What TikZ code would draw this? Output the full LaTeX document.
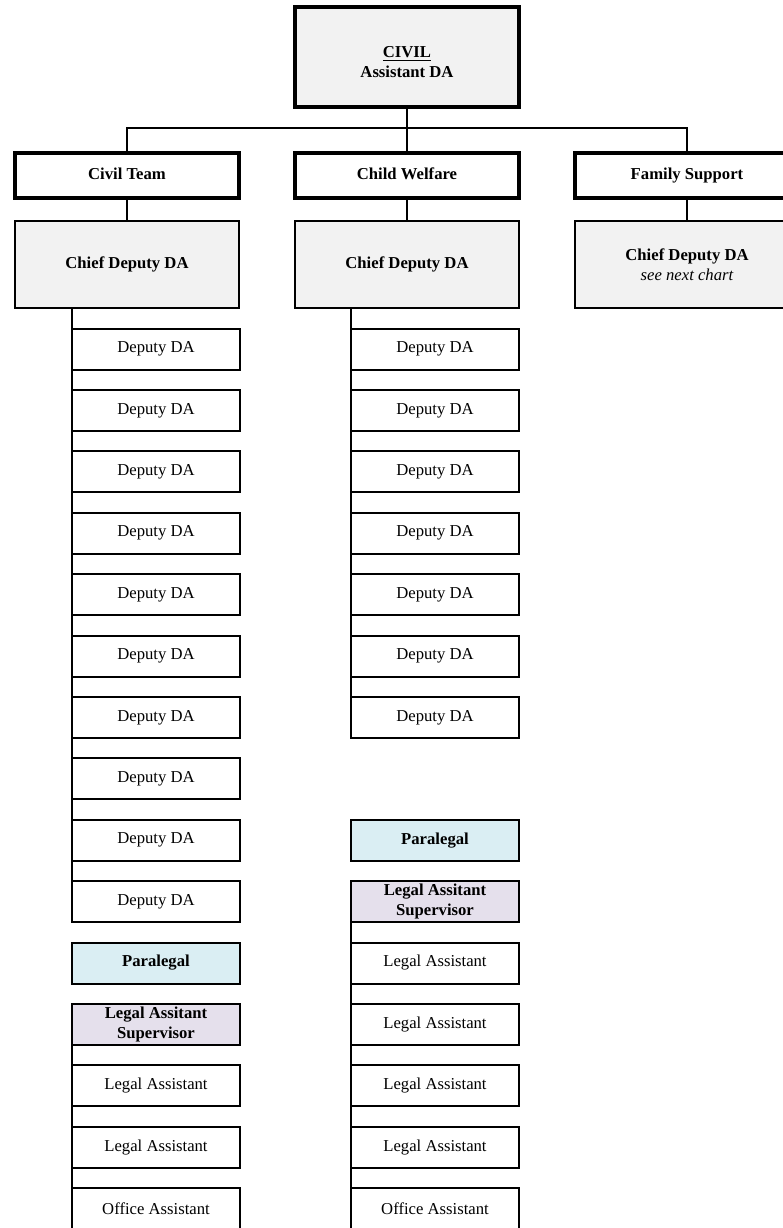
\documentclass[tikz,border=0pt]{standalone}
\usepackage{fontspec}
\setmainfont{Liberation Serif}
\usetikzlibrary{positioning}
\definecolor{chiefgray}{HTML}{F2F2F2}
\definecolor{parablue}{HTML}{DAEEF3}
\definecolor{suplilac}{HTML}{E5E0EC}
\tikzset{
  box/.style={draw, outer sep=0pt, inner sep=1pt, align=center},
  headbox/.style={box, line width=2.4pt, fill=chiefgray, minimum width=134.4pt, minimum height=60pt, font=\bfseries},
  teambox/.style={box, line width=2.4pt, fill=white, minimum width=134.4pt, minimum height=27pt, text height=7pt, text depth=2.2pt, font=\bfseries},
  chiefbox/.style={box, line width=1.2pt, fill=chiefgray, minimum width=134.4pt, minimum height=52.2pt, font=\bfseries},
  staffbox/.style={box, line width=1.2pt, fill=white, minimum width=100.8pt, minimum height=24.6pt},
  parabox/.style={staffbox, fill=parablue, font=\bfseries},
  supbox/.style={staffbox, fill=suplilac, font=\bfseries},
  link/.style={line width=1.2pt}
}

\begin{document}
\begin{tikzpicture}[node distance=12.24pt]
		\useasboundingbox (0,0) rectangle (469.8pt,-736.8pt);
		\node[headbox] at (244.2pt,-34.2pt) (civil) {\rule{0pt}{13pt}\underline{CIVIL}\\Assistant DA};
		\coordinate[below=12.6pt of civil] (bar);
		
		% divisions
		\node[teambox, below=27.6pt of civil] (cwteam) {Child Welfare};
		\node[teambox, left=33.6pt of cwteam] (civteam) {Civil Team};
		\node[teambox, right=33.6pt of cwteam] (famteam) {Family Support};
		
		\node[chiefbox, below=13.8pt of civteam] (civchief) {Chief Deputy DA};
		\node[chiefbox, below=13.8pt of cwteam] (cwchief) {Chief Deputy DA};
		\node[chiefbox, below=13.8pt of famteam] (famchief) {Chief Deputy DA\\\mdseries\itshape see next chart};
		
		% civil team staff
		\node[staffbox, below right=12.3pt and 34.2pt of civchief.south west] (civdep1) {Deputy DA};
		\node[staffbox, below=of civdep1] (civdep2) {Deputy DA};
		\node[staffbox, below=of civdep2] (civdep3) {Deputy DA};
		\node[staffbox, below=of civdep3] (civdep4) {Deputy DA};
		\node[staffbox, below=of civdep4] (civdep5) {Deputy DA};
		\node[staffbox, below=of civdep5] (civdep6) {Deputy DA};
		\node[staffbox, below=of civdep6] (civdep7) {Deputy DA};
		\node[staffbox, below=of civdep7] (civdep8) {Deputy DA};
		\node[staffbox, below=of civdep8] (civdep9) {Deputy DA};
		\node[staffbox, below=of civdep9] (civdep10) {Deputy DA};
		\node[parabox, below=of civdep10] (civpara) {Paralegal};
		\node[supbox, below=of civpara] (civsup) {Legal Assitant\\Supervisor};
		\node[staffbox, below=of civsup] (civla1) {Legal Assistant};
		\node[staffbox, below=of civla1] (civla2) {Legal Assistant};
		\node[staffbox, below=of civla2] (civoa) {Office Assistant};
		
		% child welfare staff
		\node[staffbox, below right=12.3pt and 33.6pt of cwchief.south west] (cwdep1) {Deputy DA};
		\node[staffbox, below=of cwdep1] (cwdep2) {Deputy DA};
		\node[staffbox, below=of cwdep2] (cwdep3) {Deputy DA};
		\node[staffbox, below=of cwdep3] (cwdep4) {Deputy DA};
		\node[staffbox, below=of cwdep4] (cwdep5) {Deputy DA};
		\node[staffbox, below=of cwdep5] (cwdep6) {Deputy DA};
		\node[staffbox, below=of cwdep6] (cwdep7) {Deputy DA};
		\node[parabox, below=49.08pt of cwdep7] (cwpara) {Paralegal};
		\node[supbox, below=of cwpara] (cwsup) {Legal Assitant\\Supervisor};
		\node[staffbox, below=of cwsup] (cwla1) {Legal Assistant};
		\node[staffbox, below=of cwla1] (cwla2) {Legal Assistant};
		\node[staffbox, below=of cwla2] (cwla3) {Legal Assistant};
		\node[staffbox, below=of cwla3] (cwla4) {Legal Assistant};
		\node[staffbox, below=of cwla4] (cwoa) {Office Assistant};
		
		% connectors
		\draw[link] (civil) -- (cwteam);
		\draw[link] (civteam.north) |- (bar) -| (famteam.north);
		\draw[link] (civteam) -- (civchief);
		\draw[link] (cwteam) -- (cwchief);
		\draw[link] (famteam) -- (famchief);
		\draw[link] (civchief.south -| civdep1.west) -- (civdep10.north west);
		\draw[link] (civsup.south west) -- (civoa.north west);
		\draw[link] (cwchief.south -| cwdep1.west) -- (cwdep7.north west);
		\draw[link] (cwsup.south west) -- (cwoa.north west);
		\end{tikzpicture}
\end{document}
